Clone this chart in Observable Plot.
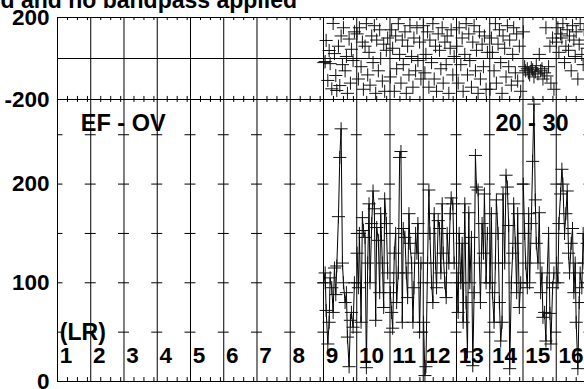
<!DOCTYPE html>
<html><head><meta charset="utf-8">
<script src="https://cdn.jsdelivr.net/npm/d3@7"></script>
<script src="https://cdn.jsdelivr.net/npm/@observablehq/plot@0.6"></script>
<style>
html,body{margin:0;padding:0;background:#fff;}
#wrap{position:relative;width:584px;height:389px;overflow:hidden;background:#fff;}
#wrap svg{position:absolute;left:0;top:0;background:transparent;}
#title{position:absolute;top:-11px;right:287px;font:bold 23px "Liberation Sans",Arial,sans-serif;line-height:23px;white-space:nowrap;color:#000;}
</style></head><body>
<div id="wrap"><div id="title"></div></div>
<script>
// ---- text ----
const titleText = "d and no bandpass applied";
const baselineLabel = "EF - OV";
const timeLabel = "20 - 30";
const stokesLabel = "(LR)";
const channelLabels = ["1","2","3","4","5","6","7","8","9","10","11","12","13","14","15","16"];
// ---- axes ----
const phaseTicks = [200, -200];
const ampTicks = [200, 100, 0];
const ampGridTicks = [50, 100, 150, 200, 250];
const subTicks = [0.3, 0.6, 0.9];
// ---- data: channels 9..16 have data ----
const dataChannels = [9, 10, 11, 12, 13, 14, 15, 16];
const times = [0.01,0.05,0.08,0.13,0.17,0.20,0.25,0.29,0.33,0.37,0.40,0.45,0.49,0.53,0.57,0.60,0.65,0.69,0.72,0.77,0.81,0.84,0.89,0.93];
const amp9  = [100,110,72,38,60,105,95,70,115,88,117,167,227,256,120,100,80,90,45,15,62,70,55,100];
const amp10 = [130,95,150,60,166,153,146,14,120,180,100,160,193,175,62,156,143,90,170,120,75,185,160,110];
const amp11 = [90,70,54,130,150,80,110,227,233,60,155,146,110,85,170,140,120,60,95,150,130,160,50,120];
const amp12 = [60,6,15,120,194,150,100,80,170,120,95,163,155,110,180,130,100,85,150,120,170,186,180,120];
const amp13 = [110,70,150,100,140,60,180,80,30,171,100,146,16,90,229,197,194,120,80,160,130,190,100,150];
const amp14 = [100,170,90,60,120,184,150,80,41,60,190,120,209,197,158,13,100,130,180,140,90,170,75,100];
const amp15 = [200,150,120,95,170,100,160,223,281,184,140,120,171,90,110,65,70,41,100,150,69,38,95,110];
const amp16 = [120,100,160,190,215,200,150,170,193,130,110,140,155,90,120,60,13,80,110,95,150,120,100,140];
const phase9  = [-20,-15,88,-107,39,-25,-148,171,24,-83,-156,60,-132,110,-30,150,-60,10,-170,95,-120,45,-10,130];
const phase10 = [120,-100,150,-40,80,-150,60,170,-80,30,-130,110,-20,160,-170,90,-60,140,0,-110,70,-160,40,100];
const phase11 = [-90,140,50,-160,110,-50,170,20,-120,90,-30,130,-170,60,-80,160,10,-140,100,-60,150,-10,80,-100];
const phase12 = [160,-70,20,130,-140,90,-20,170,-100,60,-160,120,40,-50,150,-120,80,-30,110,-170,50,140,-80,10];
const phase13 = [60,-120,150,-30,100,-160,20,170,-80,120,-10,-140,80,160,-60,40,-170,130,-100,70,-40,110,-150,30];
const phase14 = [-150,100,30,-60,170,-120,70,140,-20,-170,110,50,-90,160,-40,90,-130,20,150,-70,120,-110,60,-160];
const phase15 = [130,-40,-60,-50,-70,-80,-45,-55,-90,-65,-35,-75,20,-60,-50,-100,-70,150,-85,-40,60,-120,100,-150];
const phase16 = [80,150,30,120,100,170,-20,60,140,40,110,-60,160,90,10,130,-100,70,170,20,-30,140,90,50];

const ampSeries = [amp9, amp10, amp11, amp12, amp13, amp14, amp15, amp16];
const phaseSeries = [phase9, phase10, phase11, phase12, phase13, phase14, phase15, phase16];

// ---- build tables ----
const ampRows = [], phaseRows = [];
dataChannels.forEach((ch, k) => {
  times.forEach((t, i) => {
    ampRows.push({ch, x: ch - 1 + t, y: ampSeries[k][i]});
    phaseRows.push({ch, x: ch - 1 + t, y: phaseSeries[k][i]});
  });
});
const bounds = d3.range(0, channelLabels.length + 1);
const minorTicks = [];
channelLabels.forEach((c, i) => subTicks.forEach(s => minorTicks.push(i + s)));
const gridTicks = [];
bounds.forEach(b => ampGridTicks.forEach(v => gridTicks.push({b, v})));
const chanRows = channelLabels.map((c, i) => ({x: i, label: c}));

document.getElementById("title").textContent = titleText;

const W = 584, H = 389;
const AMP_TOP = 285.7;
const font = {fontFamily: "'Liberation Sans', Arial, sans-serif", fontSize: "22px", fontWeight: "bold", background: "transparent", overflow: "hidden"};
const xScale = {domain: [0, 15.85], axis: null};
const R = 4.3;

const p1 = Plot.plot({
  width: W, height: H, marginLeft: 57, marginRight: 0, marginTop: 17, marginBottom: 290,
  x: xScale, y: {domain: [-200, 200], axis: null},
  style: font,
  marks: [
    Plot.ruleX(bounds, {stroke: "#000", strokeWidth: 1}),
    Plot.ruleY([200, 0, -200], {stroke: "#000"}),
    Plot.ruleX(minorTicks, {y1: 200, y2: 185, stroke: "#000"}),
    Plot.ruleX(minorTicks, {y1: -200, y2: -185, stroke: "#000"}),
    Plot.dot(phaseRows, {x: "x", y: "y", symbol: "plus", r: R, stroke: "#111", strokeWidth: 1}),
    Plot.axisY(phaseTicks, {label: null, tickSize: 0, tickPadding: 8, tickFormat: d => String(d), fontSize: 22.5, fontWeight: "bold", fill: "#000"})
  ]
});

const p2 = Plot.plot({
  width: W, height: H, marginLeft: 57, marginRight: 0, marginTop: 99, marginBottom: 8,
  x: xScale, y: {domain: [0, AMP_TOP], axis: null},
  style: font,
  marks: [
    Plot.ruleX(bounds, {stroke: "#000", strokeWidth: 1}),
    Plot.ruleY([0, AMP_TOP], {stroke: "#000"}),
    Plot.ruleX(minorTicks, {y1: 0, y2: 4, stroke: "#000"}),
    Plot.ruleX(minorTicks, {y1: AMP_TOP, y2: AMP_TOP - 3, stroke: "#000"}),
    Plot.ruleY(gridTicks, {y: "v", x1: d => Math.max(0, d.b - 0.165), x2: d => d.b + 0.165, stroke: "#000"}),
    Plot.line(ampRows, {x: "x", y: "y", z: "ch", stroke: "#000", strokeWidth: 1}),
    Plot.dot(ampRows, {x: "x", y: "y", symbol: "plus", r: R, stroke: "#111", strokeWidth: 1}),
    Plot.text([baselineLabel], {x: 0.7, y: 261, text: d => d, textAnchor: "start", fontSize: 23.5, fontWeight: "bold", fill: "#000"}),
    Plot.text([timeLabel], {x: 13.17, y: 261, text: d => d, textAnchor: "start", fontSize: 23.5, fontWeight: "bold", fill: "#000"}),
    Plot.text([stokesLabel], {x: 0.07, y: 49.6, text: d => d, textAnchor: "start", fontSize: 23, fontWeight: "bold", fill: "#000"}),
    Plot.text(chanRows, {x: d => d.x + 0.07, y: 25.8, text: "label", textAnchor: "start", fontSize: 22.5, fontWeight: "bold", fill: "#000"}),
    Plot.axisY(ampTicks, {label: null, tickSize: 0, tickPadding: 8, tickFormat: d => String(d), fontSize: 22.5, fontWeight: "bold", fill: "#000"})
  ]
});

const wrap = document.getElementById("wrap");
wrap.appendChild(p1);
wrap.appendChild(p2);
</script>
</body></html>
